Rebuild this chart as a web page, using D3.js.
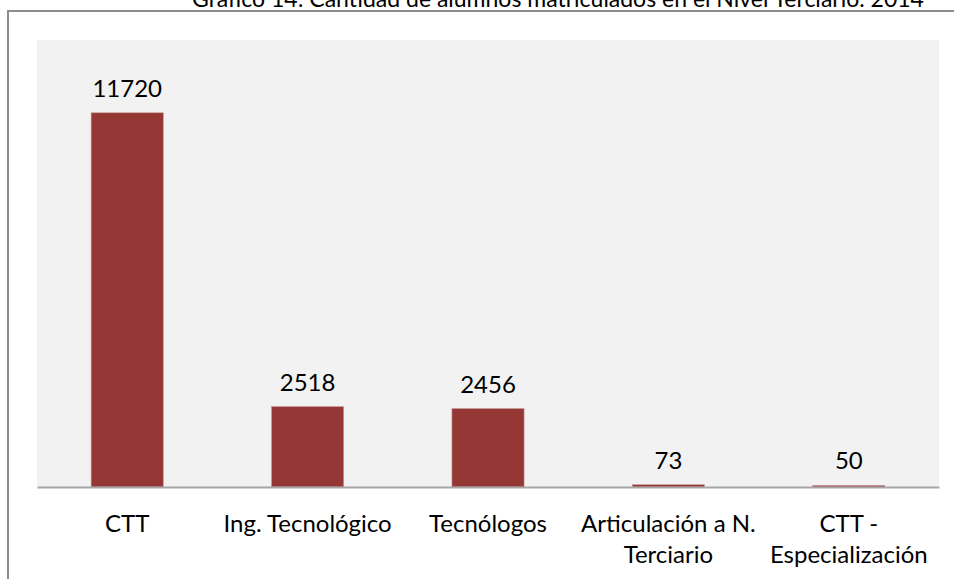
<!DOCTYPE html>
<html>
<head>
<meta charset="utf-8">
<script src="https://cdn.jsdelivr.net/npm/d3@7"></script>
<style>
  body { margin: 0; background: #fff; }
  svg { display: block; font-family: Lato, "Open Sans", sans-serif; }
</style>
</head>
<body>
<svg id="chart" width="954" height="579"></svg>
<script>
var titleText = "Gráfico 14: Cantidad de alumnos matriculados en el Nivel Terciario. 2014";
var categories = [["CTT"], ["Ing. Tecnológico"], ["Tecnólogos"], ["Articulación a N.", "Terciario"], ["CTT -", "Especialización"]];
var values = [11720, 2518, 2456, 73, 50];
var yMax = 14000;

var svg = d3.select("#chart");
var plot = {left: 37, right: 939, top: 40, bottom: 487};

// outer frame, cut off by the window on the right/bottom
svg.append("rect")
    .attr("x", 8).attr("y", 11)
    .attr("width", 1000).attr("height", 600)
    .attr("fill", "#fff")
    .attr("stroke", "#8c8c8c")
    .attr("stroke-width", 2);

svg.append("text")
    .attr("x", 558).attr("y", 7)
    .attr("text-anchor", "middle")
    .attr("font-size", 23)
    .attr("fill", "#000")
    .text(titleText);

svg.append("rect")
    .attr("x", plot.left).attr("y", plot.top)
    .attr("width", plot.right - plot.left).attr("height", plot.bottom - plot.top)
    .attr("fill", "#f2f2f2");

var x = d3.scaleBand()
    .domain(d3.range(values.length))
    .range([plot.left, plot.right])
    .paddingInner(0.6)
    .paddingOuter(0.3);

var y = d3.scaleLinear().domain([0, yMax]).range([plot.bottom, plot.top]);

svg.append("g").selectAll("rect")
    .data(values)
    .join("rect")
    .attr("x", (d, i) => x(i))
    .attr("y", d => y(d))
    .attr("width", x.bandwidth())
    .attr("height", d => y(0) - y(d))
    .attr("fill", "#953735")
    .attr("stroke", "#c99a99")
    .attr("stroke-width", 0.6);

svg.append("g").selectAll("text")
    .data(values)
    .join("text")
    .attr("x", (d, i) => x(i) + x.bandwidth() / 2)
    .attr("y", d => y(d) - 16)
    .attr("text-anchor", "middle")
    .attr("font-size", 24)
    .attr("fill", "#000")
    .text(d => d);

// x axis
var xAxis = svg.append("g")
    .attr("transform", "translate(0," + plot.bottom + ")")
    .call(d3.axisBottom(x).tickSize(0).tickFormat(""));
xAxis.select(".domain").attr("stroke", "#a6a6a6").attr("stroke-width", 2);

var labels = svg.append("g").selectAll("text")
    .data(categories)
    .join("text")
    .attr("x", (d, i) => x(i) + x.bandwidth() / 2)
    .attr("y", 532)
    .attr("text-anchor", "middle")
    .attr("font-size", 24)
    .attr("fill", "#000");
labels.selectAll("tspan")
    .data(d => d)
    .join("tspan")
    .attr("x", function() { return d3.select(this.parentNode).attr("x"); })
    .attr("dy", (d, i) => i === 0 ? 0 : 31)
    .text(d => d);
</script>
</body>
</html>
